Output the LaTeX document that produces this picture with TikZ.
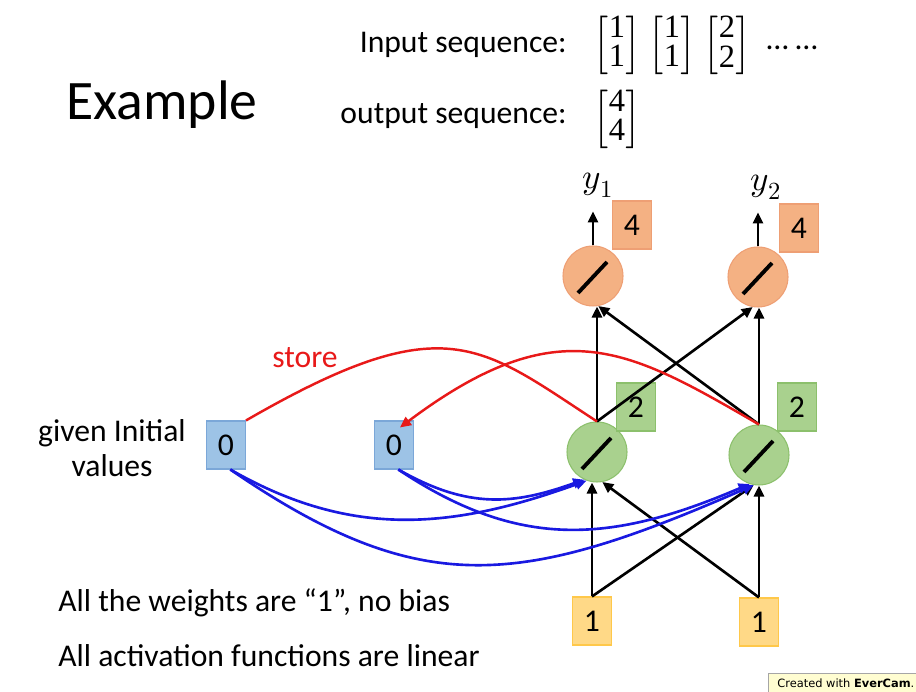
\documentclass[tikz,border=0pt]{standalone}
\usepackage{amsmath}
\usepackage{fontspec}
\usepackage{unicode-math}
\setmainfont{Carlito}
\setmathfont{Latin Modern Math}
\newfontfamily\stampfont{DejaVu Sans}
\newfontfamily\digitfont{Liberation Serif}
\usetikzlibrary{calc}
\usetikzlibrary{arrows.meta}

\definecolor{outfill}{HTML}{F4B183}
\definecolor{outline}{HTML}{EE9F74}
\definecolor{hidfill}{HTML}{A9D18E}
\definecolor{hidline}{HTML}{8CC06C}
\definecolor{memfill}{HTML}{9DC3E6}
\definecolor{memline}{HTML}{7BA7D8}
\definecolor{infill}{HTML}{FFD987}
\definecolor{inline}{HTML}{FFC84A}
\definecolor{memblue}{RGB}{25,25,225}
\definecolor{storered}{RGB}{232,25,25}

\newcommand{\colvec}[2]{{\renewcommand{\arraystretch}{0.74}%
  $\left[\begin{array}{@{}c@{}}\text{\digitfont #1}\\\text{\digitfont #2}\end{array}\right]$}}

\tikzset{
  neuron/.style={circle,minimum size=1.2cm,inner sep=0pt,line width=0.6pt,
    path picture={\draw[black,line width=2.2pt]
      ([shift={(-0.3,-0.34)}]path picture bounding box.center) --
      ([shift={(0.28,0.28)}]path picture bounding box.center);}},
  valbox/.style={rectangle,minimum width=0.78cm,minimum height=0.96cm,
    inner sep=0pt,line width=0.6pt,font=\fontsize{18}{20}\selectfont},
  wire/.style={->,line width=1.5pt},
  memwire/.style={->,line width=1.5pt,memblue},
  storewire/.style={line width=1.4pt,storered},
  txt/.style={inner sep=0pt,font=\fontsize{18}{20}\selectfont},
  vecnode/.style={inner sep=0pt,font=\fontsize{18.5}{20}\selectfont},
}

\begin{document}
\begin{tikzpicture}[>={Triangle[length=2.2mm,width=2mm]}]
    \useasboundingbox (0,0) rectangle (18.32,13.84);
    % title and sequences
    \node (title) at (3.24,11.74) {\fontsize{31.7}{38}\selectfont Example};
    \node[txt,anchor=base east] (inlab) at (11.34,12.78) {Input sequence:};
    \node[txt,anchor=base east] (outlab) at (11.34,11.36) {output sequence:};
    \node[vecnode] (seq1) at (12.34,12.93) {\colvec11};
    \node[vecnode] (seq2) at (13.44,12.93) {\colvec11};
    \node[vecnode] (seq3) at (14.54,12.93) {\colvec22};
    \node[txt,anchor=base] (dots) at (15.84,12.84) {\ldots\ \ldots};
    \node[vecnode] (res1) at (12.34,11.46) {\colvec44};
    % network
    \node[neuron,fill=outfill,draw=outline] (o1) at (11.86,8.32) {};
    \node[neuron,fill=outfill,draw=outline] (o2) at (15.16,8.30) {};
    \node[neuron,fill=hidfill,draw=hidline] (h1) at (11.94,4.80) {};
    \node[neuron,fill=hidfill,draw=hidline] (h2) at (15.18,4.74) {};
    \node[valbox,fill=infill,draw=inline] (x1) at (11.84,1.42) {1};
    \node[valbox,fill=infill,draw=inline] (x2) at (15.18,1.40) {1};
    \node[valbox,fill=memfill,draw=memline] (a1) at (4.52,4.94) {0};
    \node[valbox,fill=memfill,draw=memline] (a2) at (7.88,4.94) {0};
    \node[valbox,fill=hidfill,draw=hidline] (v1) at (12.72,5.70) {2};
    \node[valbox,fill=hidfill,draw=hidline] (v2) at (15.94,5.70) {2};
    \node[valbox,fill=outfill,draw=outline] (u1) at (12.64,9.34) {4};
    \node[valbox,fill=outfill,draw=outline] (u2) at (15.98,9.28) {4};
    \node[font=\fontsize{20}{24}\selectfont] (y1) at (11.96,10.14) {$y_1$};
    \node[font=\fontsize{20}{24}\selectfont] (y2) at (15.32,10.10) {$y_2$};
    \draw[wire] (o1.north) -- ++(0,0.68);
    \draw[wire] (o2.north) -- ++(0,0.68);
    % input -> hidden -> output
    \draw[wire] (x1.north) -- (x1.north |- h1.south);
    \draw[wire] (x1.north) -- (h2.-100);
    \draw[wire] (x2.north) -- (x2.north |- h2.south);
    \draw[wire] (x2.north) -- (h1.-80);
    \draw[wire] (h1.north) -- (h1.north |- o1.south);
    \draw[wire] (h1.north) -- (o2.-100);
    \draw[wire] (h2.north) -- (h2.north |- o2.south);
    \draw[wire] (h2.north) -- (o1.-80);
    % memory
    \draw[storewire] (a1.north east) .. controls +(3.98,2.3) and +(-2.35,1.53) .. (h1.north);
    \draw[storewire,->] (h2.north) .. controls +(-2.6,1.5) and +(3.2,2.4) .. ([shift={(-0.28,-0.14)}]a2.north east);
    \node[text=storered,font=\fontsize{18}{20}\selectfont] (store) at (6.1,6.68) {store};
    \draw[memwire] (a1.-80) .. controls +(2.44,-1.4) and +(-2.66,-0.96) .. (h1.-110);
    \draw[memwire] (a1.-80) .. controls +(3.8,-2.6) and +(-4.7,-2.06) .. (h2.-100);
    \draw[memwire] (a2.-80) .. controls +(1.4,-0.8) and +(-1.4,-0.5) .. (h1.-115);
    \draw[memwire] (a2.-80) .. controls +(2.4,-1.6) and +(-2.8,-1.2) .. (h2.-108);
    % notes
    \node[align=center,font=\fontsize{18}{19.8}\selectfont] (init) at (2.24,4.88) {given Initial\\values};
    \node[txt,anchor=base west] (note1) at (1.16,1.6) {All the weights are “1”, no bias};
    \node[txt,anchor=base west] (note2) at (1.16,0.5) {All activation functions are linear};
    \node[draw=gray!70,fill=yellow!18,anchor=west,minimum width=3.1cm,minimum height=0.38cm,
        inner sep=1pt,font=\stampfont\fontsize{6.5}{7}\selectfont] (stamp) at (15.36,0.18) {Created with \textbf{EverCam}.};
\end{tikzpicture}
\end{document}
